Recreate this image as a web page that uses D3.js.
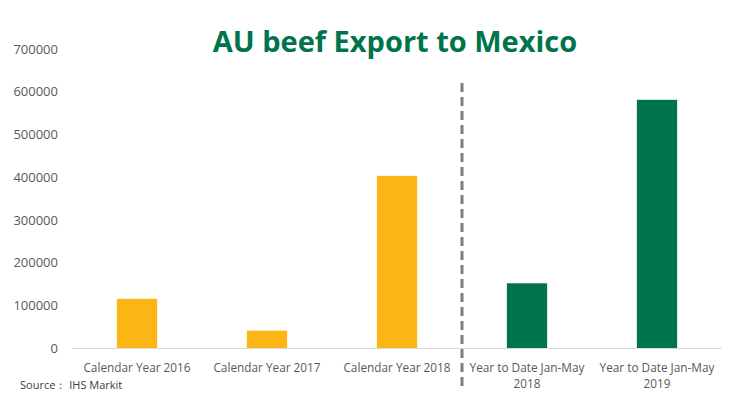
<!DOCTYPE html>
<html><head><meta charset="utf-8">
<script src="https://cdn.jsdelivr.net/npm/d3@7/dist/d3.min.js"></script>
<style>body{margin:0;background:#fff}svg{display:block}</style>
</head><body>
<svg id="c" width="740" height="397"></svg>
<script>
const categories = [["Calendar Year 2016"],["Calendar Year 2017"],["Calendar Year 2018"],["Year to Date Jan-May","2018"],["Year to Date Jan-May","2019"]];
const values = [115000, 40500, 403000, 151500, 581000];
const groups = ["year","year","year","ytd","ytd"];
const yTicks = [0,100000,200000,300000,400000,500000,600000,700000];
const title = "AU beef Export to Mexico";
const source = "Source： IHS Markit";

const svg = d3.select("#c");
const x = d3.scaleBand().domain(d3.range(categories.length)).range([72,722]).paddingInner(0.69).paddingOuter(0.345);
const y = d3.scaleLinear().domain([0,700000]).range([348,49]);
const color = d3.scaleOrdinal().domain(["year","ytd"]).range(["#FBB515","#00744A"]);

svg.append("text").attr("x",395).attr("y",52).attr("text-anchor","middle")
  .attr("font-family","Open Sans, sans-serif").attr("font-weight","bold").attr("font-size",29)
  .attr("fill","#00744A").text(title);

const yAxis = d3.axisLeft(y).tickValues(yTicks).tickFormat(d3.format("d")).tickSize(0).tickPadding(0);
const ya = svg.append("g").attr("transform","translate(58,0)").call(yAxis);
ya.select(".domain").remove();
ya.selectAll("text").attr("font-family","Open Sans, sans-serif").attr("font-size",13).attr("fill","#595959");

svg.append("line").attr("x1",72).attr("x2",722).attr("y1",y(0)+0.5).attr("y2",y(0)+0.5).attr("stroke","#d9d9d9").attr("stroke-width",1);

svg.selectAll("rect.bar").data(values).join("rect").attr("class","bar")
  .attr("x",(d,i)=>x(i)).attr("width",x.bandwidth())
  .attr("y",d=>y(d)).attr("height",d=>y(0)-y(d))
  .attr("fill",(d,i)=>color(groups[i]));

const step = x.step();
const sepX = x(3) - (step - x.bandwidth())/2;
svg.append("line").attr("x1",sepX).attr("x2",sepX).attr("y1",83).attr("y2",390)
  .attr("stroke","#7f7f7f").attr("stroke-width",3).attr("stroke-dasharray","9,5");

const lab = svg.append("g");
categories.forEach((lines,i)=>{
  const t = lab.append("text").attr("x",x(i)+x.bandwidth()/2).attr("y",372).attr("text-anchor","middle")
    .attr("font-family","Open Sans, sans-serif").attr("font-size",11.8).attr("fill","#595959");
  lines.forEach((s,j)=>t.append("tspan").attr("x",x(i)+x.bandwidth()/2).attr("dy",j?16:0).text(s));
});

svg.append("text").attr("x",20).attr("y",389).attr("font-family","Open Sans, sans-serif")
  .attr("font-size",11).attr("fill","#404040").text(source);
</script>
</body></html>
